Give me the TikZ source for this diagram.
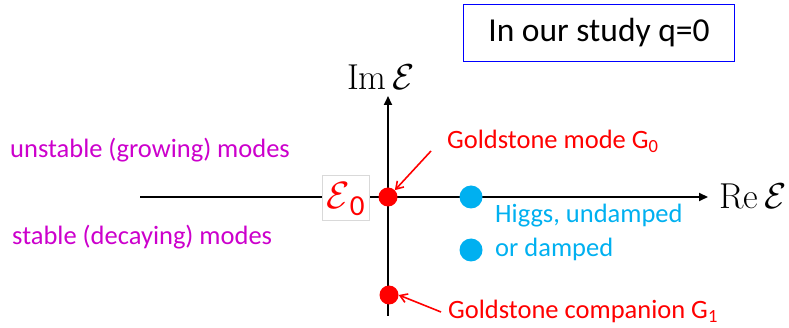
\RequirePackage{fix-cm}
\documentclass[tikz,border=0pt]{standalone}
\usepackage{fontspec}
\setmainfont{Carlito}
\newfontfamily\lmfont{Latin Modern Roman}
\usetikzlibrary{arrows.meta}
\definecolor{magtext}{RGB}{204,0,204}
\definecolor{higgsblue}{RGB}{0,176,240}
\definecolor{boxblue}{RGB}{0,0,255}
\begin{document}
\begin{tikzpicture}[x=1pt,y=-1pt,
  axis/.style={line width=2pt,-{Triangle[length=9pt,width=8pt]}},
  lbl/.style={font=\fontsize{26.5}{30}\selectfont,inner sep=0pt,anchor=west},
  axlbl/.style={inner sep=0pt,font=\fontsize{36}{40}\selectfont\lmfont},
  pointer/.style={red,line width=1.6pt,-{Straight Barb[length=7pt,width=9pt]}},
  reddot/.style={circle,fill=red,minimum size=19pt,inner sep=0pt},
  bluedot/.style={circle,fill=higgsblue,minimum size=23pt,inner sep=0pt}]
\useasboundingbox (0,0) rectangle (789,328);
% study box
\node[draw=boxblue,line width=1.5pt,minimum width=271pt,minimum height=57pt,inner sep=0pt,
  font=\fontsize{33.5}{38}\selectfont] (study) at (599,33) {In our study q=0};
% axes
\coordinate (xl) at (140,197);
\coordinate (xr) at (708,197);
\coordinate (yb) at (388,316);
\coordinate (yt) at (388,96);
\draw[axis] (xl) -- (xr);
\draw[axis] (yb) -- (yt);
% E0 box
\node[fill=white,draw=black!15,line width=0.6pt,minimum width=47pt,minimum height=45pt,inner sep=0pt] (e0) at (345.5,197.5) {};
\node[text=red,inner sep=0pt,font=\fontsize{38}{42}\selectfont] (e0t) at (345.5,199) {$\mathcal{E}$\raisebox{-0.18em}{\fontsize{29}{32}\selectfont 0}};
% axis labels
\node[axlbl,anchor=west] (re) at (719,196) {Re\,$\mathcal{E}$};
\node[axlbl,anchor=center] (im) at (381,77) {Im\,$\mathcal{E}$};
% dots
\node[reddot] (g0) at (388,197) {};
\node[reddot] (g1) at (389,295) {};
\node[bluedot] (h1) at (471,197) {};
\node[bluedot] (h2) at (471,250) {};
% labels
\node[lbl,text=magtext] (unst) at (10,150) {unstable (growing) modes};
\node[lbl,text=magtext] (st) at (12,237) {stable (decaying) modes};
\node[lbl,text=red] (gm) at (447,141) {Goldstone mode G\textsubscript{0}};
\node[lbl,text=red] (gc) at (448,311) {Goldstone companion G\textsubscript{1}};
\node[lbl,text=higgsblue] (hg1) at (495,216) {Higgs, undamped};
\node[lbl,text=higgsblue] (hg2) at (495,249) {or damped};
% pointers
\coordinate (p0) at (431,151);
\coordinate (p1) at (441,312);
\draw[pointer] (p0) -- (g0.north east);
\draw[pointer] (p1) -- (g1.east);
\end{tikzpicture}
\end{document}
